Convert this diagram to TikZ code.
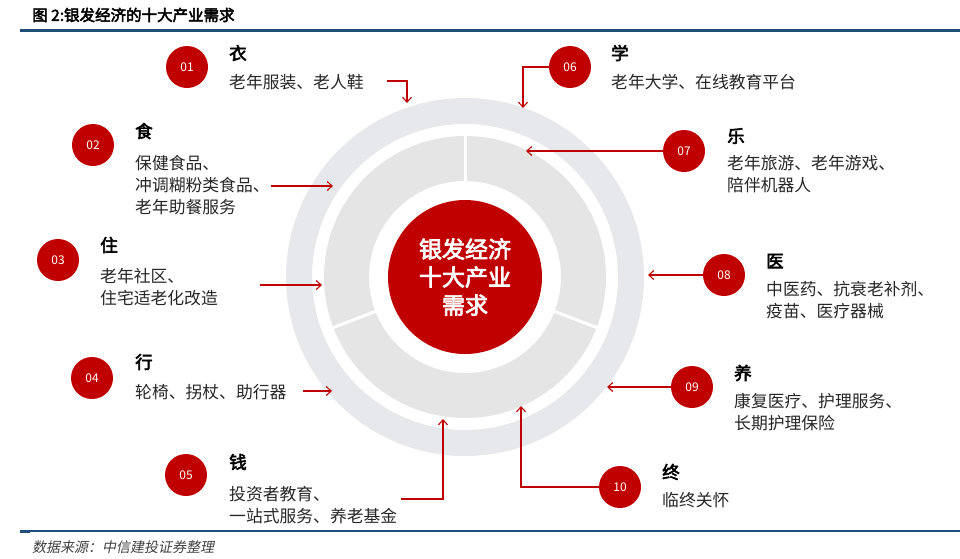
\documentclass[tikz,border=0pt]{standalone}
\usepackage{fontspec}
\newfontfamily\cjk[AutoFakeBold=3,AutoFakeSlant=0.2]{Noto Sans CJK SC}
\usepackage{tikz}
\usetikzlibrary{arrows,arrows.meta}
\definecolor{deepred}{RGB}{192,0,0}
\definecolor{ringgrey}{RGB}{231,232,236}
\definecolor{seggrey}{RGB}{229,229,229}
\definecolor{rulebl}{RGB}{31,78,121}
\tikzset{
	badge/.style={
		% The shape:
		circle,minimum size=42pt,inner sep=0pt,
		% The rest
		fill=deepred,text=white,
		font=\cjk\fontsize{12}{12}\selectfont,
	}}
\tikzset{
	heading/.style={
		anchor=west,inner sep=0pt,
		font=\cjk\bfseries\fontsize{17.5}{17.5}\selectfont,
	},
	detail/.style={
		anchor=west,inner sep=0pt,align=left,
		text=black!85,
		font=\cjk\fontsize{16.8}{22}\selectfont,
	}}
\tikzset{
	hub/.style={
		% The shape:
		circle,minimum size=154pt,inner sep=0pt,
		% The filling:
		fill=deepred,text=white,align=center,
		font=\cjk\bfseries\fontsize{23}{28}\selectfont,
	},
	link/.style={
		-{Straight Barb[length=5pt,width=9pt]},draw=deepred,line width=1.1pt,
	},
	rule/.style={
		draw=rulebl,
	}}
\begin{document}
\begin{tikzpicture}[x=1pt,y=-1pt]
\useasboundingbox (0,0) rectangle (960,558);
% title and rules
\node[heading,font=\cjk\bfseries\fontsize{15.5}{15.5}\selectfont] (cap) at (32,15) {图 2:银发经济的十大产业需求};
\draw[rule,line width=3.5pt] (20,30.5) -- (960,30.5);
\draw[rule,line width=1.5pt] (20,531) -- (960,531);
\draw[rule,line width=3pt] (20,531) -- (30,531);
\node[anchor=west,inner sep=0pt,text=black!75,font=\cjk\itshape\fontsize{14}{14}\selectfont] (src) at (32,547) {数据来源：中信建投证券整理};

% the rings
\begin{scope}[shift={(465,277)}]
	\fill[ringgrey,even odd rule] (0,0) circle (179pt) (0,0) circle (153pt);
	\fill[seggrey,even odd rule] (0,0) circle (141pt) (0,0) circle (96pt);
	\foreach \a in {90,201,339}
		\draw[white,line width=3pt] (\a:94pt) -- (\a:143pt);
\end{scope}
\node[hub] (hub) at (465,277) {银发经济\\十大产业\\需求};

% left side
\node[badge] (n01) at (187,67) {01};
\node[heading] (h01) at (229,53) {衣};
\node[detail] (d01) at (229,82) {老年服装、老人鞋};
\node[badge] (n02) at (93,145) {02};
\node[heading] (h02) at (135,131) {食};
\node[detail] (d02) at (135,185) {保健食品、\\冲调糊粉类食品、\\老年助餐服务};
\node[badge] (n03) at (58,260) {03};
\node[heading] (h03) at (100,245) {住};
\node[detail] (d03) at (100,287) {老年社区、\\住宅适老化改造};
\node[badge] (n04) at (92,378) {04};
\node[heading] (h04) at (135,362) {行};
\node[detail] (d04) at (135,392) {轮椅、拐杖、助行器};
\node[badge] (n05) at (186,475) {05};
\node[heading] (h05) at (229,462) {钱};
\node[detail] (d05) at (229,505) {投资者教育、\\一站式服务、养老基金};

% right side
\node[badge] (n06) at (570,67) {06};
\node[heading] (h06) at (611,53) {学};
\node[detail] (d06) at (611,82) {老年大学、在线教育平台};
\node[badge] (n07) at (684,151) {07};
\node[heading] (h07) at (727,136) {乐};
\node[detail] (d07) at (727,174) {老年旅游、老年游戏、\\陪伴机器人};
\node[badge] (n08) at (724,275) {08};
\node[heading] (h08) at (766,261) {医};
\node[detail] (d08) at (766,300) {中医药、抗衰老补剂、\\疫苗、医疗器械};
\node[badge] (n09) at (692,387) {09};
\node[heading] (h09) at (734,373) {养};
\node[detail] (d09) at (734,412) {康复医疗、护理服务、\\长期护理保险};
\node[badge] (n10) at (620,487) {10};
\node[heading] (h10) at (662,472) {终};
\node[detail] (d10) at (662,500) {临终关怀};

% arrow ends
\coordinate (s01) at (387,81);  \coordinate (e01) at (407,103);
\coordinate (s02) at (271,186); \coordinate (e02) at (333,186);
\coordinate (s03) at (260,285); \coordinate (e03) at (322,285);
\coordinate (s04) at (303,391); \coordinate (e04) at (332,391);
\coordinate (s05) at (401,499); \coordinate (e05) at (443,419);
\coordinate (e06) at (523,108);
\coordinate (e07) at (526,151);
\coordinate (e08) at (648,275);
\coordinate (e09) at (607,387);
\coordinate (e10) at (521,406);

\draw[link] (s01) -| (e01);
\draw[link] (s02) -- (e02);
\draw[link] (s03) -- (e03);
\draw[link] (s04) -- (e04);
\draw[link] (s05) -| (e05);
\draw[link] (n06.west) -| (e06);
\draw[link] (n07.west) -- (e07);
\draw[link] (n08.west) -- (e08);
\draw[link] (n09.west) -- (e09);
\draw[link] (n10.west) -| (e10);
\end{tikzpicture}
\end{document}
